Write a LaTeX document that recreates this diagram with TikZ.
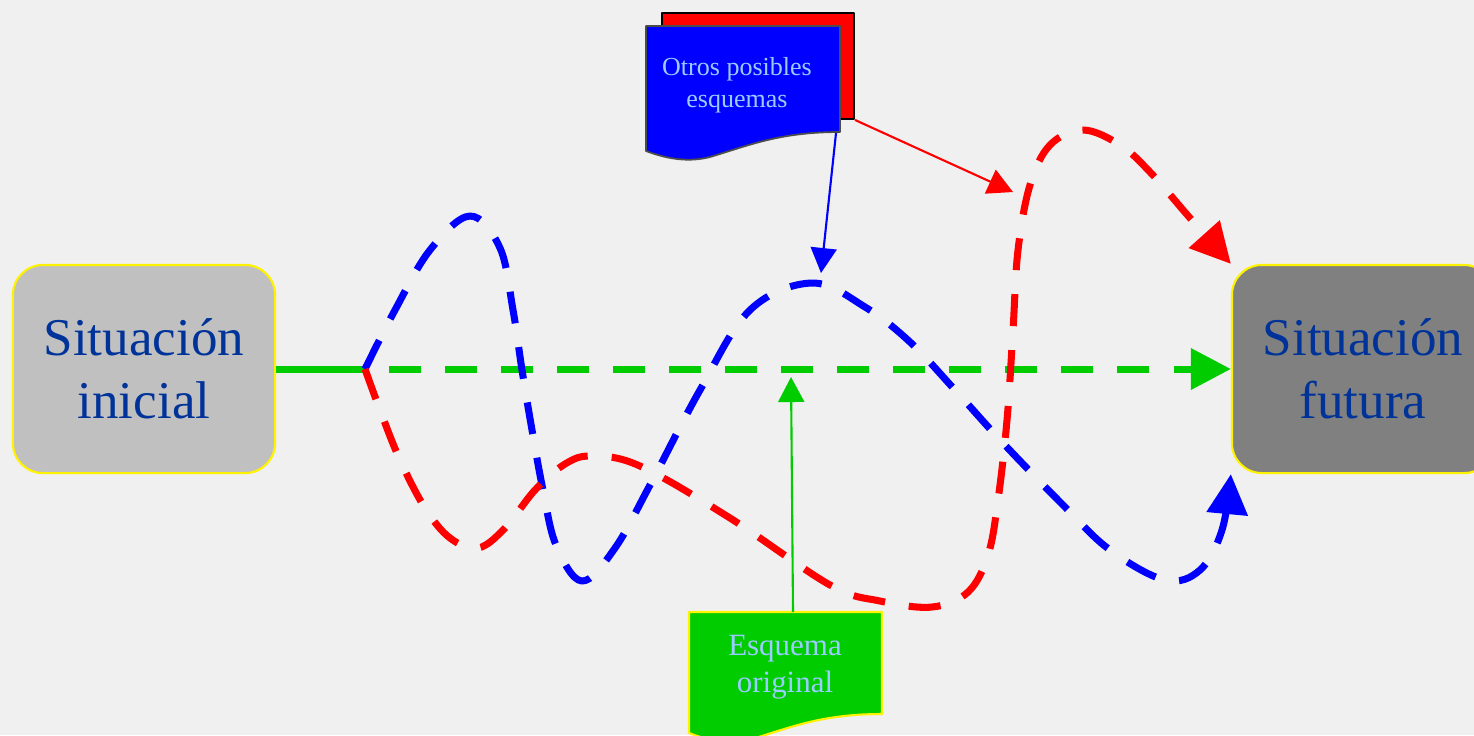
\documentclass[tikz,border=0pt]{standalone}
\usepackage{fontspec}
\setmainfont{Liberation Serif}
\usetikzlibrary{arrows.meta}
\definecolor{fondo}{HTML}{F0F0F0}
\definecolor{verde}{HTML}{00CC00}
\definecolor{azultxt}{HTML}{003399}
\definecolor{celeste}{HTML}{99CCFF}
\definecolor{grisclaro}{HTML}{C0C0C0}
\definecolor{grisoscuro}{HTML}{808080}
\begin{document}
\begin{tikzpicture}[x=0.01cm, y=-0.01cm, line join=round,
  caja/.style={draw=yellow, line width=0.6pt, rounded corners=0.3cm, minimum width=2.62cm, minimum height=2.08cm, align=center, text=azultxt, font=\fontsize{15.1}{17.9}\selectfont},
  camino/.style={line width=2pt, dash pattern=on 0.32cm off 0.24cm},
  grande/.style={-{Triangle[length=0.4cm,width=0.4cm]}},
  fina/.style={line width=0.6pt, -{Triangle[length=0.25cm,width=0.26cm]}}]
%Fondo y marco
\useasboundingbox (0,0) rectangle (1474,735);
\fill[fondo] (0,0) rectangle (1474,735);
%Situaciones
\node[caja, fill=grisclaro] (ini) at (144,369) {Situación\\inicial};
\node[caja, fill=grisoscuro] (fut) at (1363,369) {Situación\\futura};
%Esquemas
\node[draw, fill=red, minimum width=1.92cm, minimum height=1.06cm, inner sep=0pt, line width=0.5pt] (rojo) at (758,66) {};
\draw[fill=blue, draw=black!70, line width=0.5pt] (646,26) -- (840,26) -- (840,132) .. controls (780,132) and (750,145) .. (710,157) .. controls (690,162) and (670,160) .. (646,151) -- cycle;
\draw[fill=verde, draw=yellow, line width=0.6pt] (689,612) -- (882,612) -- (882,714) .. controls (822,714) and (792,727) .. (752,739) .. controls (732,744) and (712,742) .. (689,733) -- cycle;
\node[text=celeste, align=center, font=\fontsize{7.4}{9.1}\selectfont] (otros) at (737,85) {Otros posibles\\esquemas};
\node[text=celeste, align=center, font=\fontsize{8.8}{10.5}\selectfont] (esq) at (785,667) {Esquema\\original};
\coordinate (cruce) at (365,369);
\coordinate (azul) at (836,133);
\coordinate (verdesq) at (793,612);
\coordinate (pico) at (821,273);
\coordinate (bucle) at (1013,192);
\coordinate (recta) at (791,377);
%Camino original
\draw[verde, line width=2pt] (ini.east) -- (cruce);
\draw[verde, camino, dash phase=0.32cm, grande] (cruce) -- (fut.west);
%Otros caminos
\draw[blue, camino, grande] plot[smooth, tension=0.6] coordinates {(cruce) (395,310) (430,250) (470,216) (500,248) (513,310) (522,370) (532,430) (543,490) (556,545) (582,581) (615,548) (650,485) (700,390) (750,310) (812,283) (865,307) (910,342) (955,390) (1003,443) (1063,505) (1110,550) (1165,580) (1200,570) (1222,530) (fut.south west)};
\draw[red, camino, grande] plot[smooth, tension=0.6] coordinates {(cruce) (380,410) (400,460) (425,508) (450,538) (478,548) (505,528) (535,490) (565,464) (592,456) (640,466) (730,518) (830,585) (880,601) (932,607) (968,592) (988,555) (998,500) (1007,420) (1013,330) (1018,250) (1030,185) (1050,145) (1083,130) (1120,145) (1150,172) (1190,218) (fut.north west)};
%Flechas finas
\draw[blue, fina] (azul) -- (pico);
\draw[red, fina] (rojo.south east) -- (bucle);
\draw[verde, fina] (verdesq) -- (recta);
\end{tikzpicture}
\end{document}
